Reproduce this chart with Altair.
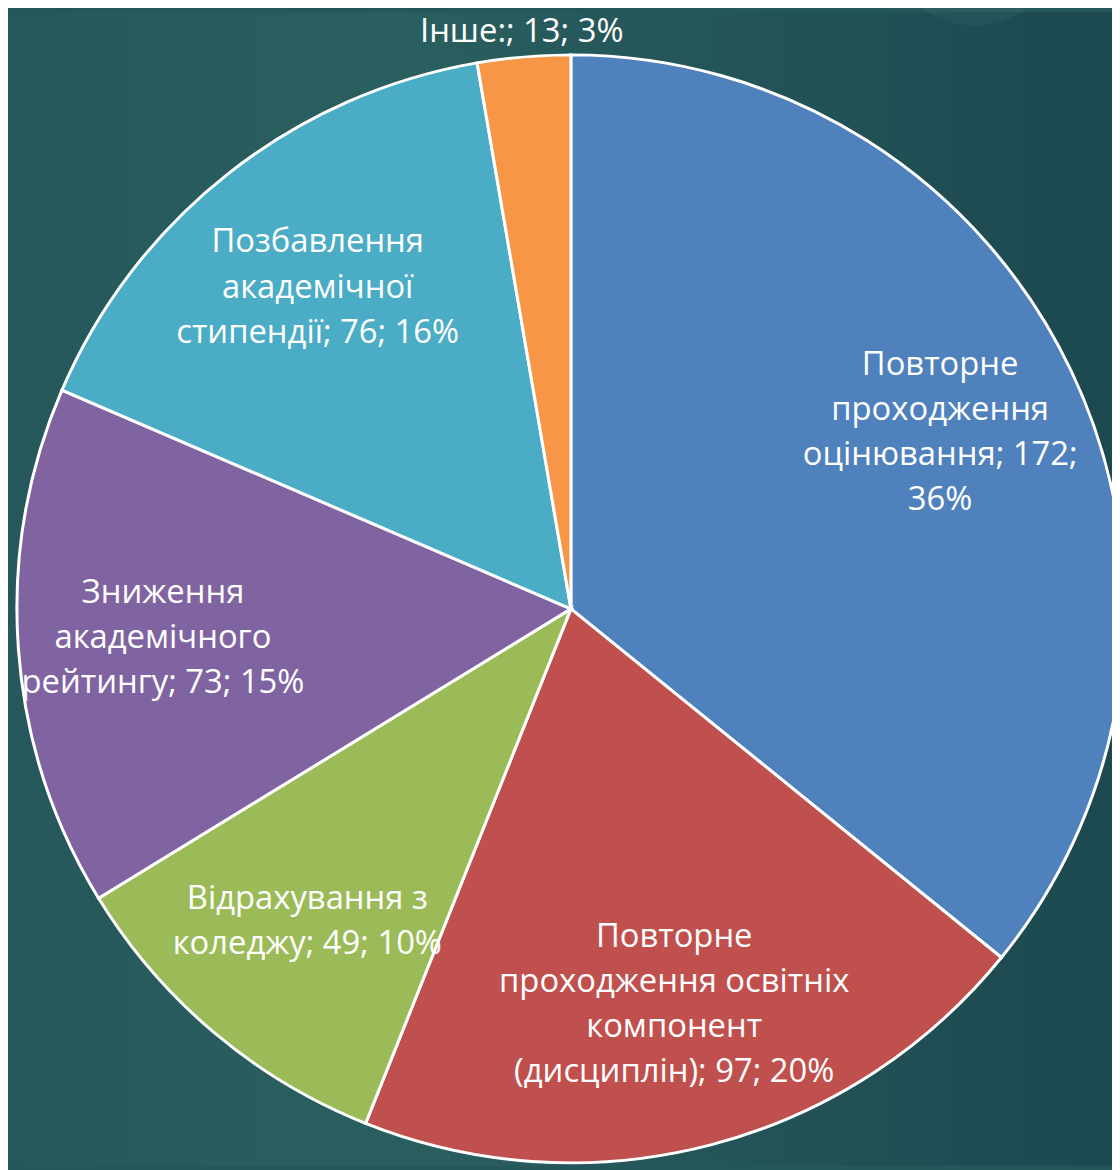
import altair as alt
import pandas as pd

categories = [
    "Повторне проходження оцінювання",
    "Повторне проходження освітніх компонент (дисциплін)",
    "Відрахування з коледжу",
    "Зниження академічного рейтингу",
    "Позбавлення академічної стипендії",
    "Інше:",
]
values = [172, 97, 49, 73, 76, 13]
labels = [
    "Повторне\nпроходження\nоцінювання; 172;\n36%",
    "Повторне\nпроходження освітніх\nкомпонент\n(дисциплін); 97; 20%",
    "Відрахування з\nколеджу; 49; 10%",
    "Зниження\nакадемічного\nрейтингу; 73; 15%",
    "Позбавлення\nакадемічної\nстипендії; 76; 16%",
    "Інше:; 13; 3%",
]
colors = ["#4F81BD", "#C0504D", "#9BBB59", "#8064A2", "#4BACC6", "#F79646"]

df = pd.DataFrame({
    "category": categories,
    "value": values,
    "label": labels,
    "idx": list(range(len(categories))),
})

W, H = 1112, 1162
CX, CY = 567, 601
R = 558
LH = 45.5

bg = alt.Chart(pd.DataFrame({"a": [0]})).mark_rect(
    color=alt.LinearGradient(
        gradient="linear",
        stops=[
            alt.GradientStop(color="#26585b", offset=0),
            alt.GradientStop(color="#2a5f5f", offset=0.35),
            alt.GradientStop(color="#1c4850", offset=1),
        ],
        x1=0, x2=1, y1=0, y2=0,
    )
).encode(x=alt.value(0), x2=alt.value(W), y=alt.value(0), y2=alt.value(H))

deco = alt.Chart(pd.DataFrame({"a": [0]})).mark_circle(
    color="#ffffff", opacity=0.035, size=32700
).encode(x=alt.value(974), y=alt.value(-77))

pie = alt.Chart(df).mark_arc(outerRadius=R, stroke="white", strokeWidth=3).encode(
    theta=alt.Theta("value:Q", stack=True),
    order=alt.Order("idx:Q"),
    x=alt.value(CX),
    y=alt.value(CY),
    color=alt.Color(
        "category:N",
        scale=alt.Scale(domain=categories, range=colors),
        legend=None,
    ),
)

text = (
    alt.Chart(df)
    .transform_joinaggregate(total="sum(value)")
    .transform_window(
        cum="sum(value)",
        sort=[alt.SortField("idx", order="ascending")],
        frame=[None, 0],
    )
    .transform_calculate(
        mid="(datum.cum - datum.value / 2) / datum.total * 2 * PI",
        r="datum.value < 20 ? 583 : 412",
        lines="split(datum.label, '\\n')",
    )
    .transform_calculate(n="length(datum.lines)")
    .transform_flatten(["lines"], as_=["line"])
    .transform_window(li="row_number()", groupby=["category"])
    .transform_calculate(
        px=f"{CX} + datum.r * sin(datum.mid)",
        py=f"{CY} - datum.r * cos(datum.mid) + (datum.li - 1 - (datum.n - 1) / 2) * {LH}",
    )
    .mark_text(
        font="Open Sans",
        fontSize=33,
        color="white",
        align="center",
        baseline="middle",
    )
    .encode(
        x=alt.X("px:Q", scale=None, axis=None),
        y=alt.Y("py:Q", scale=None, axis=None),
        text="line:N",
    )
)

chart = alt.layer(bg, deco, pie, text).properties(
    width=W,
    height=H,
    padding=0,
    autosize=alt.AutoSizeParams(type="none"),
    background="#24575a",
).configure_view(stroke=None)

chart.save("out.html", embed_options={"renderer": "svg", "actions": False})
